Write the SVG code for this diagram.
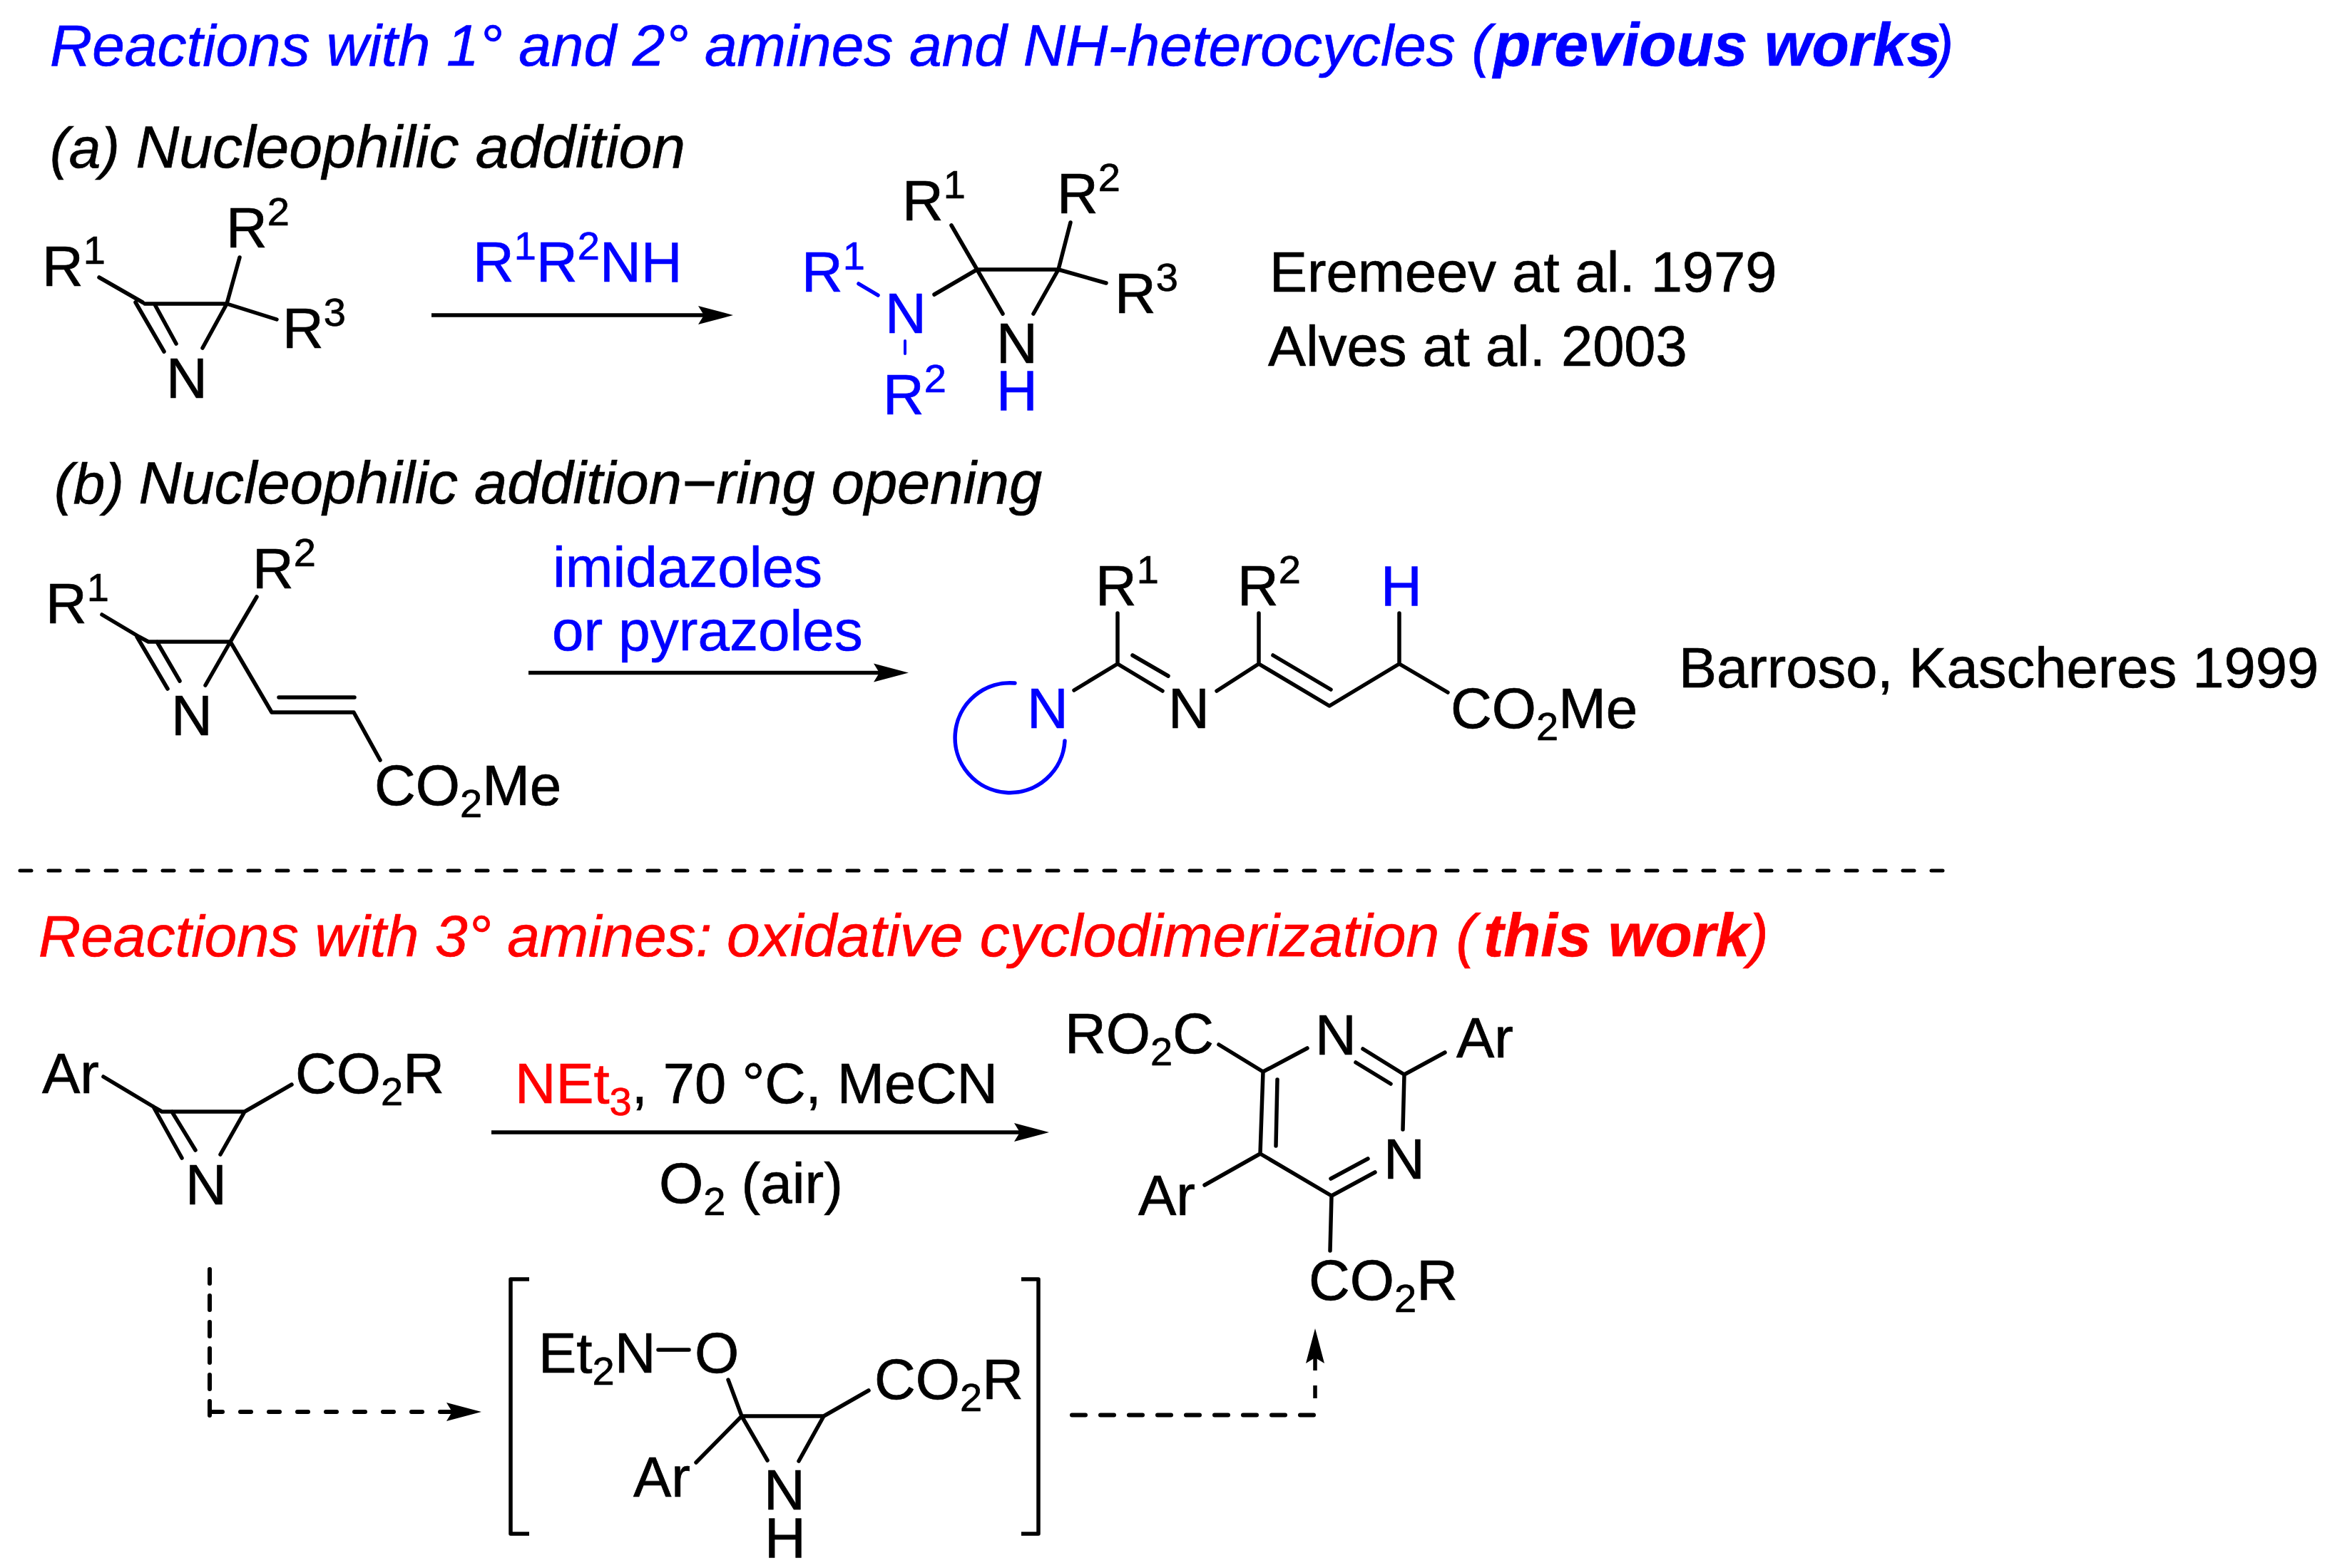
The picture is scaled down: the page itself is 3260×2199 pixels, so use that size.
<svg xmlns="http://www.w3.org/2000/svg" width="3260" height="2199" viewBox="0 0 3260 2199">
<defs>
<style>
text{font-family:"Liberation Sans",Arial,sans-serif;font-size:80px;fill:#000;stroke:#000;stroke-width:.7}
.i{font-style:italic;font-size:83px}
.bi{font-style:italic;font-weight:bold;font-size:85.500px}
.blue,.blue tspan{fill:#00f;stroke:#00f}
.red,.red tspan{fill:#f00;stroke:#f00}
.ref{font-size:79.500px}
.s{font-size:56px}
.b{fill:none;stroke:#000;stroke-width:5.500;stroke-linecap:round;stroke-linejoin:round}
.bb{fill:none;stroke:#00f;stroke-width:5.500;stroke-linecap:round}
.a{fill:none;stroke:#000;stroke-width:5.500}
.d{fill:none;stroke:#000;stroke-width:6;stroke-linecap:round}
</style>
<marker id="ah" markerUnits="userSpaceOnUse" markerWidth="50" markerHeight="28" refX="8" refY="14" orient="auto" viewBox="0 0 50 28"><path d="M49,14 L0,1 L8,14 L0,27 Z" fill="#000"/></marker>
</defs>
<rect width="3260" height="2199" fill="#fff"/>

<g id="headings">
<text x="70" y="92" class="i blue" style="font-size:82px">Reactions with 1° and 2° amines and NH-heterocycles (<tspan class="bi" x="2094">previous works</tspan><tspan x="2712">)</tspan></text>
<text x="70" y="235" class="i" style="font-size:80px">(a) <tspan x="190.500" style="font-size:84px">Nucleophilic addition</tspan></text>
<text x="76" y="706" class="i" style="font-size:80px">(b) <tspan x="194.500" style="font-size:83px">Nucleophilic addition−ring opening</tspan></text>
<text x="54" y="1341" class="i red" style="font-size:82px">Reactions with 3° amines: <tspan x="1019" style="font-size:84px">oxidative cyclodimerization (</tspan><tspan class="bi" x="2080" style="font-size:85px">this work</tspan><tspan x="2452" style="font-size:83px">)</tspan></text>
</g>

<g id="azirine-a">
<path class="b" d="M139,389 L200,424 M203,426 H318 L336,361 M318,426 L388,448 M318,426 L284,488 M190,424 L230,493 M217,427 L247,482"/>
<text x="59" y="401">R<tspan class="s" dy="-31">1</tspan></text>
<text x="317" y="347">R<tspan class="s" dy="-31">2</tspan></text>
<text x="396" y="488">R<tspan class="s" dy="-31">3</tspan></text>
<text x="233" y="558">N</text>
</g>

<g id="reagent-a">
<text x="663" y="395" class="blue">R<tspan class="s" dy="-31">1</tspan><tspan dy="31">R</tspan><tspan class="s" dy="-31">2</tspan><tspan dy="31">NH</tspan></text>
</g>

<g id="aziridine-a">
<path class="b" d="M1334,316 L1370,378 H1484 L1501,312 M1484,378 L1551,397 M1370,378 L1406,440 M1484,378 L1449,440 M1370,378 L1310,413"/>
<path class="bb" d="M1204,398 L1231,414"/>
<path class="bb" style="stroke-width:4" d="M1269,478 V496"/>
<text x="1265" y="309">R<tspan class="s" dy="-31">1</tspan></text>
<text x="1482" y="299">R<tspan class="s" dy="-31">2</tspan></text>
<text x="1563" y="439">R<tspan class="s" dy="-31">3</tspan></text>
<text x="1124" y="409" class="blue">R<tspan class="s" dy="-31">1</tspan></text>
<text x="1241" y="467" class="blue">N</text>
<text x="1238" y="581" class="blue">R<tspan class="s" dy="-31">2</tspan></text>
<text x="1397" y="509">N</text>
<text x="1397" y="575" class="blue">H</text>
</g>

<g id="refs-a">
<text x="1780" y="409" class="ref">Eremeev at al. 1979</text>
<text x="1778" y="513" class="ref">Alves at al. 2003</text>
</g>

<g id="azirine-b">
<path class="b" d="M143,862 L195,893 L208,900 H323 L360,837 M323,900 L288,961 M192,893 L235,966 M220,900 L252,955 M323,900 L381,999 H496 L533,1066 M391,978 H497"/>
<text x="64" y="874">R<tspan class="s" dy="-31">1</tspan></text>
<text x="354" y="825">R<tspan class="s" dy="-31">2</tspan></text>
<text x="240" y="1031">N</text>
<text x="525" y="1129">CO<tspan class="s" dy="17">2</tspan><tspan dy="-17">Me</tspan></text>
</g>

<g id="reagent-b">
<text x="775" y="823" class="blue">imidazoles</text>
<text x="774" y="912" class="blue">or pyrazoles</text>
</g>

<g id="product-b">
<path class="bb" d="M1423,958 A77,77 0 1 0 1493,1039"/>
<path class="b" d="M1567,860 V931 L1506,968 M1567,931 L1630,969 M1588,919 L1638,948 M1765,860 V931 L1706,969 M1765,931 L1864,990 L1962,931 V860 M1785,919 L1866,967 M1962,931 L2030,971"/>
<text x="1536" y="849">R<tspan class="s" dy="-31">1</tspan></text>
<text x="1735" y="849">R<tspan class="s" dy="-31">2</tspan></text>
<text x="1936" y="849" class="blue">H</text>
<text x="1440" y="1021" class="blue">N</text>
<text x="1638" y="1021">N</text>
<text x="2034" y="1021">CO<tspan class="s" dy="17">2</tspan><tspan dy="-17">Me</tspan></text>
</g>

<g id="ref-b">
<text x="2354" y="964" class="ref">Barroso, Kascheres 1999</text>
</g>

<g id="azirine-c">
<path class="b" d="M145,1510 L215,1552 L227,1559 H343 L409,1521 M343,1559 L309,1619 M215,1552 L255,1624 M241,1559 L274,1613"/>
<text x="59" y="1533">Ar</text>
<text x="414" y="1533">CO<tspan class="s" dy="17">2</tspan><tspan dy="-17">R</tspan></text>
<text x="260" y="1689">N</text>
</g>

<g id="reagent-c">
<text x="722" y="1547" style="font-size:79.500px"><tspan class="red">NEt<tspan class="s" dy="17">3</tspan></tspan><tspan dy="-17">, 70 °C, MeCN</tspan></text>
<text x="924" y="1687">O<tspan class="s" dy="17">2</tspan><tspan dy="-17"> (air)</tspan></text>
</g>

<g id="pyrimidine">
<path class="b" d="M1709,1465 L1771,1503 L1833,1470 M1771,1503 L1767,1618 L1867,1677 L1928,1644 M1911,1471 L1969,1507 L2026,1476 M1901,1490 L1950,1520 M1969,1507 L1967,1584 M1866,1653 L1918,1625 M1791,1514 L1789,1607 M1767,1618 L1689,1662 M1867,1677 L1865,1754"/>
<text x="1493" y="1477">RO<tspan class="s" dy="17">2</tspan><tspan dy="-17">C</tspan></text>
<text x="1844" y="1479">N</text>
<text x="2042" y="1483">Ar</text>
<text x="1940" y="1653">N</text>
<text x="1596" y="1704">Ar</text>
<text x="1835" y="1823">CO<tspan class="s" dy="17">2</tspan><tspan dy="-17">R</tspan></text>
</g>

<g id="intermediate">
<path class="b" style="stroke-linecap:butt" d="M742,1794 H716 V2151 H742 M1432,1794 H1456 V2151 H1432"/>
<path class="b" d="M923,1893 H966 M1040,1986 L1021,1935 M1040,1986 L976,2051 M1040,1986 H1155 L1218,1950 M1040,1986 L1076,2048 M1155,1986 L1120,2049"/>
<text x="755" y="1925">Et<tspan class="s" dy="17">2</tspan><tspan dy="-17">N</tspan></text>
<text x="974" y="1925">O</text>
<text x="1226" y="1962">CO<tspan class="s" dy="17">2</tspan><tspan dy="-17">R</tspan></text>
<text x="888" y="2099">Ar</text>
<text x="1071" y="2117">N</text>
<text x="1072" y="2184">H</text>
</g>

<g id="connectors">
<line class="a" x1="605" y1="442" x2="987" y2="442" marker-end="url(#ah)"/>
<line class="a" x1="741" y1="943.500" x2="1233" y2="943.500" marker-end="url(#ah)"/>
<line class="a" x1="689" y1="1588" x2="1430" y2="1588" marker-end="url(#ah)"/>
<line class="d" style="stroke-width:5;stroke-dasharray:16 24" x1="28" y1="1221" x2="2731" y2="1221"/>
<path class="d" style="stroke-dasharray:20 17" d="M294,1780 V1985"/>
<line class="d" style="stroke-dasharray:15 25" x1="297" y1="1980" x2="634" y2="1980" marker-end="url(#ah)"/>
<line class="d" style="stroke-dasharray:19 21" x1="1503" y1="1984.500" x2="1846" y2="1984.500"/>
<path class="a" d="M1844,1961 V1943 M1844,1922 V1904" marker-end="url(#ah)"/>
</g>
</svg>
